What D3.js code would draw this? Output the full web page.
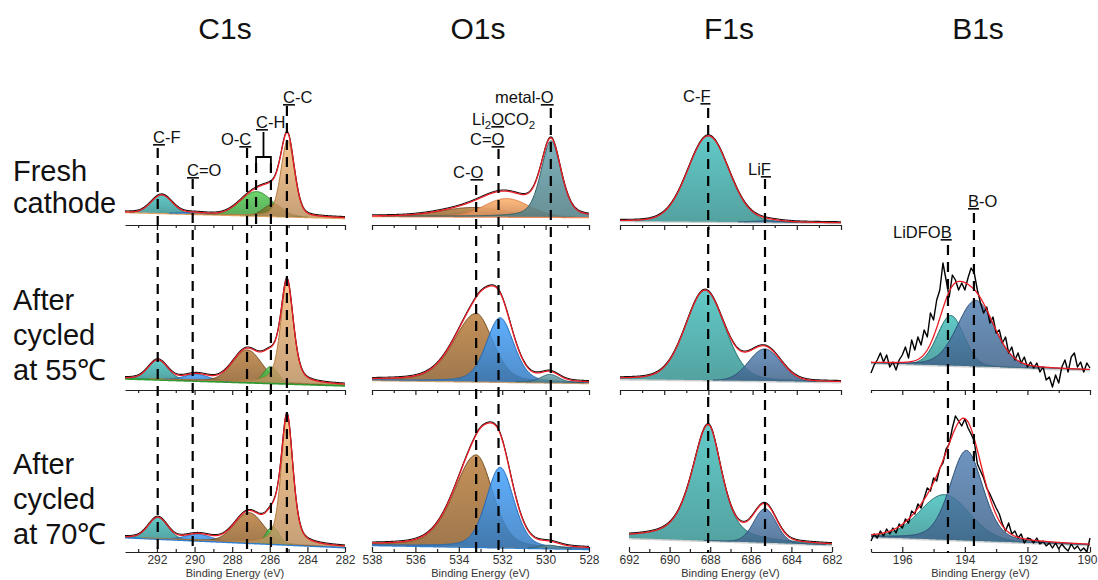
<!DOCTYPE html>
<html>
<head>
<meta charset="utf-8">
<script src="https://cdn.jsdelivr.net/npm/d3@7"></script>
<style>
  body { margin: 0; background: #fff; }
  svg { display: block; font-family: "Liberation Sans", Arial, sans-serif; }
</style>
</head>
<body>
<div id="chart"></div>
<script>
// XPS core-level spectra (C1s, O1s, F1s, B1s) of fresh and cycled cathodes

const regionNames = ["C1s", "O1s", "F1s", "B1s"];
const sampleNames = [["Fresh", "cathode"], ["After", "cycled", "at 55℃"], ["After", "cycled", "at 70℃"]];

// binding energy windows (eV), high -> low
const c1sWindow = [293.7, 282];
const o1sWindow = [538, 528];
const f1sWindow = [692, 682];
const b1sWindow = [197, 190];

// fitted components per sample: centre (eV), height (a.u.), fwhm (eV), lorentzian share
// wl / wr = fwhm on the high / low binding energy side when the peak is asymmetric
const c1sPeaks = [
  [
    { id: "C-F", center: 291.75, height: 18, fwhm: 1.3, mix: 0 },
    { id: "C=O", center: 290.0, height: 1.5, fwhm: 1.5, mix: 0 },
    { id: "O-C", center: 286.7, height: 24, fwhm: 2.0, mix: 0 },
    { id: "C-H", center: 285.8, height: 12, fwhm: 1.2, mix: 0 },
    { id: "C-C", center: 285.05, height: 76, fwhm: 0.85, mix: 0.3 }
  ],
  [
    { id: "C-F", center: 291.95, height: 19, fwhm: 1.2, mix: 0.1 },
    { id: "C=O", center: 289.9, height: 6, fwhm: 1.5, mix: 0 },
    { id: "O-C", center: 287.2, height: 32, fwhm: 1.8, mix: 0.1 },
    { id: "C-H", center: 285.95, height: 16, fwhm: 0.9, mix: 0 },
    { id: "C-C", center: 285.08, height: 102, fwhm: 0.8, mix: 0.5 }
  ],
  [
    { id: "C-F", center: 291.95, height: 21, fwhm: 1.2, mix: 0.1 },
    { id: "C=O", center: 289.8, height: 6, fwhm: 1.6, mix: 0 },
    { id: "O-C", center: 287.1, height: 30, fwhm: 1.8, mix: 0.1 },
    { id: "C-H", center: 285.85, height: 17, fwhm: 0.8, mix: 0 },
    { id: "C-C", center: 285.08, height: 128, fwhm: 0.75, mix: 0.5 }
  ]
];

const o1sPeaks = [
  [
    { id: "C-O", center: 533.3, height: 9, fwhm: 3.5, mix: 0 },
    { id: "C=O", center: 531.8, height: 18, fwhm: 2.4, mix: 0 },
    { id: "metal-O", center: 529.75, height: 76, fwhm: 1.1, mix: 0.4 }
  ],
  [
    { id: "C-O", center: 533.2, height: 68, wl: 2.4, wr: 1.8, mix: 0.3 },
    { id: "C=O", center: 532.1, height: 64, fwhm: 1.5, mix: 0.3 },
    { id: "metal-O", center: 529.8, height: 8, fwhm: 1.0, mix: 0.2 }
  ],
  [
    { id: "C-O", center: 533.2, height: 92, wl: 2.4, wr: 1.8, mix: 0.3 },
    { id: "C=O", center: 532.1, height: 80, fwhm: 1.5, mix: 0.3 },
    { id: "metal-O", center: 529.8, height: 3, fwhm: 1.0, mix: 0 }
  ]
];

const f1sPeaks = [
  [
    { id: "C-F", center: 688.0, height: 86, fwhm: 2.2, mix: 0.1 },
    { id: "LiF", center: 685.3, height: 1.5, fwhm: 1.5, mix: 0 }
  ],
  [
    { id: "C-F", center: 688.15, height: 90, fwhm: 2.1, mix: 0.2 },
    { id: "LiF", center: 685.45, height: 32, fwhm: 1.7, mix: 0 }
  ],
  [
    { id: "C-F", center: 688.1, height: 116, wl: 1.9, wr: 1.6, mix: 0.6 },
    { id: "LiF", center: 685.3, height: 34, fwhm: 1.3, mix: 0.1 }
  ]
];

const b1sPeaks = [
  null,
  [
    { id: "LiDFOB", center: 194.45, height: 50, fwhm: 1.0, mix: 0.1 },
    { id: "B-O", center: 193.65, height: 66, fwhm: 1.4, mix: 0.2 }
  ],
  [
    { id: "LiDFOB", center: 194.65, height: 45, fwhm: 1.9, mix: 0.1 },
    { id: "B-O", center: 193.95, height: 90, fwhm: 1.25, mix: 0.3 }
  ]
];

// linear background under each spectrum: [high BE end, low BE end]
const c1sBackground = [[13, 7], [12, 5], [15, 5]];
const o1sBackground = [[9, 8], [10, 7], [7, 3]];
const f1sBackground = [[4, 2], [11, 8], [14, 7]];
const b1sBackground = [null, [27, 20], [15, 7]];

// raw B1s counts (a.u.), 197.0 -> 190.0 eV every 0.1 eV
const b1sEnergy = d3.range(1970, 1899, -1).map(v => v / 10);
const b1sRaw55 = [17, 25, 30, 37, 28, 35, 23, 28, 20, 30, 35, 43, 32, 50, 40, 53, 45, 60, 53, 77,
  70, 90, 100, 127, 110, 93, 115, 110, 100, 107, 100, 112, 122, 117, 100, 87, 77, 83, 67, 73,
  57, 60, 47, 53, 37, 43, 30, 37, 27, 33, 23, 28, 22, 27, 18, 23, 10, 13, 3, 15,
  7, 23, 30, 18, 33, 37, 23, 28, 18, 27, 22];
const b1sRaw70 = [11, 18, 14, 21, 16, 23, 18, 24, 19, 28, 24, 33, 29, 41, 38, 48, 44, 54, 64, 61,
  74, 71, 84, 89, 103, 108, 124, 136, 131, 126, 133, 124, 118, 111, 88, 81, 74, 64, 58, 51,
  44, 38, 28, 21, 29, 18, 21, 14, 18, 9, 14, 13, 9, 14, 8, 11, 6, 9, 4, 9,
  3, 8, 4, 1, 8, 3, 6, 1, 4, 0, 14];

// marker (dashed line) positions, eV
const c1sMarkers = [291.96, 290.1, 287.21, 286.73, 285.94, 285.09];
const o1sMarkers = [533.2, 532.17, 529.76];
const f1sMarkers = [688.1, 685.3];
const b1sMarkers = [194.54, 193.71];

// ---------------- layout & style ----------------
const width = 1098, height = 580;
const rowAxisY = [225, 390, 552];
const font = "'Liberation Sans', Arial, sans-serif";

const palette = {
  teal: ["#3eaaa8", "#1c6766"],
  blue: ["#3b8ee0", "#1f66b5"],
  green: ["#48b548", "#2a852a"],
  olive: ["#77742c", "#55521c"],
  brown: ["#a56f35", "#6e4618"],
  tan: ["#dca870", "#b57a3c"],
  peach: ["#f4a36b", "#e0773a"],
  slateTeal: ["#5b929b", "#2c5d66"],
  slate: ["#4a73a0", "#2a4c74"]
};

const panels = [
  {
    name: "C1s", window: c1sWindow, peaks: c1sPeaks, bg: c1sBackground, titleX: 225,
    ranges: [[125, 345], [125, 345], [125, 345]],
    colors: [
      { "C-F": "teal", "C=O": "blue", "O-C": "green", "C-H": "olive", "C-C": "tan" },
      { "C-F": "teal", "C=O": "blue", "O-C": "brown", "C-H": "green", "C-C": "tan" },
      { "C-F": "teal", "C=O": "blue", "O-C": "brown", "C-H": "green", "C-C": "tan" }
    ],
    bgStroke: [["#e0a060", 1.5], ["#2f9a2f", 2.5], ["#2f7fd0", 2]]
  },
  {
    name: "O1s", window: o1sWindow, peaks: o1sPeaks, bg: o1sBackground, titleX: 478,
    ranges: [[372, 589], [372, 589], [372, 589]],
    colors: [
      { "C-O": "brown", "C=O": "peach", "metal-O": "slateTeal" },
      { "C-O": "brown", "C=O": "blue", "metal-O": "slateTeal" },
      { "C-O": "brown", "C=O": "blue", "metal-O": "slateTeal" }
    ],
    bgStroke: [["#f08a5a", 1.5], ["#c9a070", 1.5], ["#2f7fd0", 1.5]]
  },
  {
    name: "F1s", window: f1sWindow, peaks: f1sPeaks, bg: f1sBackground, titleX: 729,
    ranges: [[620, 841], [620, 841], [629, 832]],
    colors: [
      { "C-F": "teal", "LiF": "slate" },
      { "C-F": "teal", "LiF": "slate" },
      { "C-F": "teal", "LiF": "slate" }
    ],
    bgStroke: [["#cfcfcf", 1.5], ["#cfcfcf", 2], ["#cfcfcf", 2]]
  },
  {
    name: "B1s", window: b1sWindow, peaks: b1sPeaks, bg: b1sBackground, titleX: 978,
    ranges: [null, [871, 1090], [871, 1090]],
    colors: [null, { "LiDFOB": "teal", "B-O": "slate" }, { "LiDFOB": "teal", "B-O": "slate" }],
    bgStroke: [null, ["#cfcfcf", 2], ["#cfcfcf", 2]],
    raw: [null, b1sRaw55, b1sRaw70]
  }
];

// peak annotations: label parts [text, style] (u = underline, s = subscript)
const annotations = [
  { panel: 0, e: c1sMarkers[0], parts: [["C", "u"], ["-F", ""]], tx: 153, ty: 143, top: 148, bottom: 553 },
  { panel: 0, e: c1sMarkers[1], parts: [["C", "u"], ["=O", ""]], tx: 187, ty: 176, top: 179, bottom: 553 },
  { panel: 0, e: c1sMarkers[2], parts: [["O-", ""], ["C", "u"]], tx: 221, ty: 145, top: 148, bottom: 553 },
  { panel: 0, e: c1sMarkers[3], parts: null, top: 163, bottom: 225 },
  { panel: 0, e: c1sMarkers[4], parts: [["C", "u"], ["-H", ""]], tx: 256, ty: 128, top: 163, bottom: 553 },
  { panel: 0, e: c1sMarkers[5], parts: [["C", "u"], ["-C", ""]], tx: 283, ty: 103, top: 106, bottom: 553 },
  { panel: 1, e: o1sMarkers[0], parts: [["C-", ""], ["O", "u"]], tx: 453, ty: 178, top: 185, bottom: 553 },
  { panel: 1, e: o1sMarkers[1], parts: [["C=", ""], ["O", "u"]], tx: 470, ty: 145, top: 149, bottom: 553 },
  { panel: 1, e: null, parts: [["Li", ""], ["2", "s"], ["O", "u"], ["CO", ""], ["2", "s"]], tx: 472, ty: 125 },
  { panel: 1, e: o1sMarkers[2], parts: [["metal-", ""], ["O", "u"]], tx: 495, ty: 103, top: 108, bottom: 553 },
  { panel: 2, e: f1sMarkers[0], parts: [["C-", ""], ["F", "u"]], tx: 683, ty: 102, top: 108, bottom: 553 },
  { panel: 2, e: f1sMarkers[1], parts: [["Li", ""], ["F", "u"]], tx: 748, ty: 175, top: 179, bottom: 553 },
  { panel: 3, e: b1sMarkers[0], parts: [["LiDFO", ""], ["B", "u"]], tx: 893, ty: 238, top: 245, bottom: 553 },
  { panel: 3, e: b1sMarkers[1], parts: [["B", "u"], ["-O", ""]], tx: 968, ty: 207, top: 213, bottom: 553 }
];

const sampleBaselines = [[181, 213], [310, 345, 380], [474, 509, 544]];

// ---------------- helpers ----------------
function profile(p, e) {
  const w = e > p.center ? (p.wl || p.fwhm) : (p.wr || p.fwhm);
  const t = (e - p.center) / w;
  const g = Math.exp(-4 * Math.LN2 * t * t);
  const l = 1 / (1 + 4 * t * t);
  return p.height * ((1 - p.mix) * g + p.mix * l);
}

const svg = d3.select("#chart").append("svg")
  .attr("width", width)
  .attr("height", height)
  .attr("viewBox", `0 0 ${width} ${height}`);

const defs = svg.append("defs");
Object.entries(palette).forEach(([key, [fill]]) => {
  const grad = defs.append("linearGradient")
    .attr("id", "grad-" + key)
    .attr("x1", 0).attr("y1", 0).attr("x2", 0).attr("y2", 1);
  grad.append("stop").attr("offset", "0%").attr("stop-color", d3.color(fill).brighter(0.35));
  grad.append("stop").attr("offset", "100%").attr("stop-color", d3.color(fill).darker(0.45));
});

// region titles
svg.selectAll(".title")
  .data(panels)
  .join("text")
    .attr("x", d => d.titleX)
    .attr("y", 39)
    .attr("text-anchor", "middle")
    .attr("font-size", 30)
    .attr("fill", "#111")
    .text((d, i) => regionNames[i]);

// sample labels
sampleNames.forEach((lines, r) => {
  svg.append("g").selectAll("text")
    .data(lines)
    .join("text")
      .attr("x", 13)
      .attr("y", (d, i) => sampleBaselines[r][i])
      .attr("font-size", 29)
      .attr("fill", "#111")
      .text(d => d);
});

const plot = svg.append("g");

panels.forEach((panel, pi) => {
  for (let r = 0; r < 3; r++) {
    if (!panel.peaks[r]) continue;
    const axisY = rowAxisY[r];
    const x = d3.scaleLinear().domain(panel.window).range(panel.ranges[r]);
    const y = d3.scaleLinear().domain([0, 100]).range([axisY, axisY - 100]);
    const [hi, lo] = panel.window;
    const bgAt = e => panel.bg[r][0] + (panel.bg[r][1] - panel.bg[r][0]) * (hi - e) / (hi - lo);
    const grid = d3.range(lo, hi + 0.0001, 0.02);
    const g = plot.append("g");

    // background line
    g.append("path")
      .datum(grid)
      .attr("fill", "none")
      .attr("stroke", panel.bgStroke[r][0])
      .attr("stroke-width", panel.bgStroke[r][1])
      .attr("d", d3.line().x(e => x(e)).y(e => y(bgAt(e)) + 0.5));

    // components
    panel.peaks[r].forEach(p => {
      const key = panel.colors[r][p.id];
      const pts = grid.filter(e => profile(p, e) > 0.15);
      g.append("path")
        .datum(pts)
        .attr("fill", `url(#grad-${key})`)
        .attr("fill-opacity", key === "peach" ? 0.95 : 0.85)
        .attr("d", d3.area()
          .x(e => x(e))
          .y0(e => y(bgAt(e)))
          .y1(e => y(bgAt(e) + profile(p, e))));
      g.append("path")
        .datum(pts)
        .attr("fill", "none")
        .attr("stroke", palette[key][1])
        .attr("stroke-width", 1)
        .attr("d", d3.line().x(e => x(e)).y(e => y(bgAt(e) + profile(p, e))));
    });

    const envelope = e => bgAt(e) + d3.sum(panel.peaks[r], p => profile(p, e));

    // measured spectrum
    if (panel.raw && panel.raw[r]) {
      g.append("path")
        .datum(panel.raw[r])
        .attr("fill", "none")
        .attr("stroke", "#000")
        .attr("stroke-width", 1.4)
        .attr("stroke-linejoin", "round")
        .attr("d", d3.line().x((d, i) => x(b1sEnergy[i])).y(d => y(d)));
    } else {
      g.append("path")
        .datum(grid)
        .attr("fill", "none")
        .attr("stroke", "#111")
        .attr("stroke-width", 1.1)
        .attr("transform", "translate(0,-1)")
        .attr("d", d3.line().x(e => x(e)).y(e => y(envelope(e))));
    }

    // fit envelope
    g.append("path")
      .datum(grid)
      .attr("fill", "none")
      .attr("stroke", "#ec1c24")
      .attr("stroke-width", 1.3)
      .attr("d", d3.line().x(e => x(e)).y(e => y(envelope(e))));

    // energy axis: major ticks every 2 eV, minor every 1 eV
    const all = d3.range(Math.ceil(lo), Math.floor(hi) + 0.001, 1);
    const major = all.filter(v => v % 2 === 0);
    const minor = all.filter(v => v % 2 !== 0);
    const bottomRow = r === 2;

    const axMajor = d3.axisBottom(x)
      .tickValues(major)
      .tickSizeInner(bottomRow ? -5 : 5)
      .tickSizeOuter(0)
      .tickPadding(3)
      .tickFormat(bottomRow ? d3.format("d") : () => "");
    const axMinor = d3.axisBottom(x)
      .tickValues(minor)
      .tickSizeInner(bottomRow ? -3 : 3)
      .tickSizeOuter(0)
      .tickFormat(() => "");

    const ag = plot.append("g").attr("transform", `translate(0,${axisY})`);
    ag.append("g").call(axMajor);
    ag.append("g").call(axMinor).select(".domain").remove();
    ag.selectAll("path, line").attr("stroke", "#222").attr("stroke-width", 1.2);
    ag.selectAll("text")
      .attr("font-family", font)
      .attr("font-size", 12)
      .attr("fill", "#333");
    // keep the last label inside the page edge
    ag.selectAll(".tick text")
      .filter(d => x(d) > width - 12)
      .attr("text-anchor", "end")
      .attr("dx", 7);

    if (bottomRow) {
      plot.append("text")
        .attr("x", d3.mean(panel.ranges[r]))
        .attr("y", 577)
        .attr("text-anchor", "middle")
        .attr("font-size", 11)
        .attr("fill", "#333")
        .text("Binding Energy (eV)");
    }
  }
});

// dashed marker lines and peak labels
const ann = svg.append("g");
annotations.forEach(a => {
  const panel = panels[a.panel];
  const x = d3.scaleLinear().domain(panel.window).range(panel.ranges[2]);
  if (a.e !== null) {
    ann.append("line")
      .attr("x1", x(a.e)).attr("x2", x(a.e))
      .attr("y1", a.top).attr("y2", a.bottom)
      .attr("stroke", "#000")
      .attr("stroke-width", 2.2)
      .attr("stroke-dasharray", "10,7");
  }
  if (a.parts) {
    const t = ann.append("text")
      .attr("x", a.tx)
      .attr("y", a.ty)
      .attr("font-size", 16.5)
      .attr("fill", "#111");
    let shifted = false;
    a.parts.forEach(([s, style]) => {
      const ts = t.append("tspan").text(s);
      if (style === "u") ts.style("text-decoration", "underline");
      if (style === "s") {
        ts.attr("font-size", 11.5).attr("dy", 4);
        shifted = true;
      } else if (shifted) {
        ts.attr("dy", -4);
        shifted = false;
      }
    });
  }
});

// C-H bracket in the fresh C1s spectrum
{
  const x = d3.scaleLinear().domain(c1sWindow).range(panels[0].ranges[0]);
  const xa = x(c1sMarkers[3]), xb = x(c1sMarkers[4]);
  ann.append("path")
    .attr("d", `M${xa},164V157H${xb}V164M${(xa + xb) / 2},132V157`)
    .attr("fill", "none")
    .attr("stroke", "#000")
    .attr("stroke-width", 1.8);
}
</script>
</body>
</html>
